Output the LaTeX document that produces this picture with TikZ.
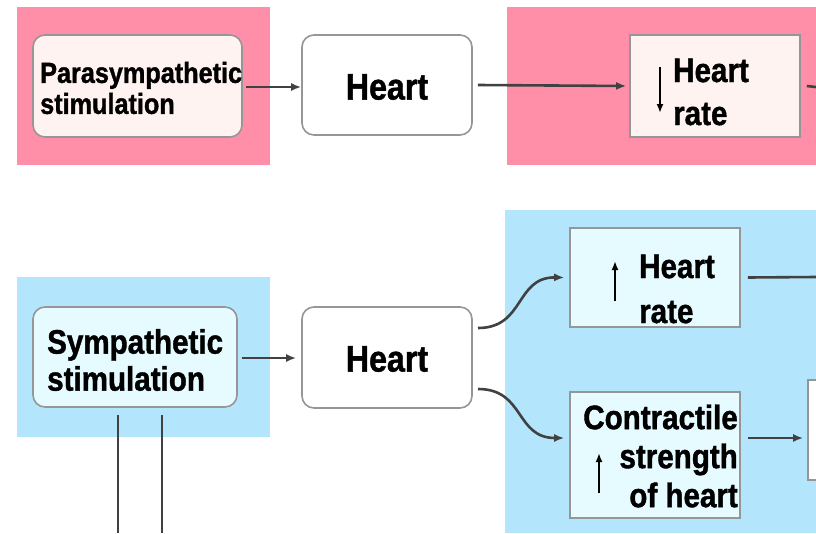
\documentclass[tikz,border=0pt]{standalone}
\usepackage{fontspec}
\setmainfont[FakeStretch=0.87,FakeBold=1.2]{Liberation Sans}
\usetikzlibrary{arrows.meta}
\definecolor{pinkbg}{RGB}{255,143,168}
\definecolor{pinkbox}{RGB}{255,243,242}
\definecolor{bluebg}{RGB}{179,229,252}
\definecolor{bluebox}{RGB}{229,251,255}
\definecolor{edge}{RGB}{150,150,150}
\definecolor{linec}{RGB}{65,65,65}
\tikzset{
  rbox/.style={draw=edge, line width=1.6pt, rounded corners=12pt, minimum width=#1, inner sep=0pt},
  sbox/.style={draw=edge, line width=1.6pt, inner sep=0pt},
  txt/.style={inner sep=0pt, font=\bfseries\fontsize{34}{39}\selectfont},
  conn/.style={draw=linec, line width=2.6pt, -{Latex[length=10pt,width=8pt]}},
  plain/.style={draw=linec, line width=2.6pt},
  updown/.style={draw=black, line width=2pt, -{Latex[length=9pt,width=7pt]}},
}
\begin{document}
\begin{tikzpicture}[x=1pt,y=-1pt]
\clip (0,0) rectangle (816,533);
\fill[white] (0,0) rectangle (816,533);
% panels
\fill[pinkbg] (17,7) rectangle (270,165);
\fill[pinkbg] (507,7) rectangle (816,165);
\fill[bluebg] (17,277) rectangle (270,437);
\fill[bluebg] (505,210) rectangle (816,533);
% top row
\node[rbox=209pt, minimum height=102pt, fill=pinkbox] (para) at (137.5,86) {};
\node[txt, font=\bfseries\fontsize{29}{31}\selectfont, anchor=west, align=left] (paratxt) at (40,88) {Parasympathetic\\stimulation};
\node[rbox=170pt, minimum height=100pt, fill=white] (heartA) at (387,85) {};
\node[txt, font=\bfseries\fontsize{37}{40}\selectfont] (heartAtxt) at (387,87) {Heart};
\node[sbox, minimum width=170pt, minimum height=102pt, fill=pinkbox] (hrdown) at (715,86) {};
\node[txt, font=\bfseries\fontsize{34}{43}\selectfont, anchor=west, align=left] (hrdowntxt) at (673,92) {Heart\\rate};
\draw[updown] (660,67) -- (660,113);
% bottom row
\node[rbox=204pt, minimum height=100pt, fill=bluebox] (symp) at (135,357) {};
\node[txt, font=\bfseries\fontsize{34}{37}\selectfont, anchor=west, align=left] (symptxt) at (47,360) {Sympathetic\\stimulation};
\node[rbox=170pt, minimum height=101pt, fill=white] (heartB) at (387,357.5) {};
\node[txt, font=\bfseries\fontsize{37}{40}\selectfont] (heartBtxt) at (387,359) {Heart};
\node[sbox, minimum width=170pt, minimum height=99pt, fill=bluebox] (hrup) at (655,277.5) {};
\node[txt, font=\bfseries\fontsize{34}{45}\selectfont, anchor=west, align=left] (hruptxt) at (639,289) {Heart\\rate};
\draw[updown] (615,301) -- (615,261);
\node[sbox, minimum width=170pt, minimum height=126pt, fill=bluebox] (contr) at (655,455) {};
\node[txt, anchor=east, align=right] (contrtxt) at (738,456) {Contractile\\strength\\of heart};
\draw[updown] (599,493) -- (599,453);
\node[sbox, minimum width=104pt, minimum height=100pt, fill=white] (next) at (860,430) {};
% connectors
\coordinate (topout) at (816,87);
\coordinate (midout) at (816,277);
\coordinate (leftA) at (118,533);
\coordinate (leftB) at (162,533);
\draw[conn] (para.east |- 0,87) ++(3,0) -- (heartA.west |- 0,87);
\draw[conn] ([xshift=5pt]heartA.east) -- ([xshift=-3pt]hrdown.west);
\draw[plain] ([xshift=6pt]hrdown.east) -- (topout);
\draw[conn] ([xshift=4pt]symp.east |- 0,358) -- ([xshift=-5pt]heartB.west |- 0,358);
\draw[conn] (478,328) .. controls (525,328) and (515,277) .. ([xshift=-5pt]hrup.west);
\draw[conn] (478,389) .. controls (525,389) and (515,438) .. ([xshift=-5pt]contr.west |- 0,438);
\draw[plain] ([xshift=7pt]hrup.east) -- (midout);
\draw[conn] ([xshift=7pt]contr.east |- 0,438) -- ([xshift=-4pt]next.west |- 0,438);
\draw[plain] (118,415) -- (leftA);
\draw[plain] (162,415) -- (leftB);
\end{tikzpicture}
\end{document}
